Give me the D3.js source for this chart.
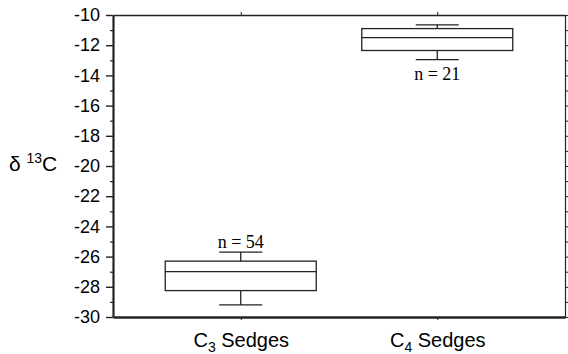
<!DOCTYPE html>
<html>
<head>
<meta charset="utf-8">
<script src="https://cdn.jsdelivr.net/npm/d3@7"></script>
<style>
  body { margin: 0; background: #fff; }
  svg { display: block; }
</style>
</head>
<body>
<div id="chart"></div>
<script>
// box summary per group
const groups = ['C3', 'C4'];
const groupSub = ['3', '4'];
const whiskerLow = [-29.2, -12.95];
const q1 = [-28.25, -12.35];
const median = [-27.0, -11.5];
const q3 = [-26.3, -10.9];
const whiskerHigh = [-25.7, -10.65];
const nCounts = [54, 21];
const nAbove = [true, false];
const yTicks = [-30, -28, -26, -24, -22, -20, -18, -16, -14, -12, -10];

const width = 568, height = 354;
const margin = {top: 15, right: 3, bottom: 37, left: 113};
const ink = '#222';

const svg = d3.select('#chart').append('svg')
    .attr('width', width).attr('height', height);

const y = d3.scaleLinear().domain([-30, -10]).range([height - margin.bottom, margin.top]);
const x = d3.scalePoint().domain(groups)
    .range([margin.left, width - margin.right]).padding(0.65);

const boxW = 151, capW = 43;

// minor ticks on the left, every odd value
const minorTicks = d3.range(-29, -10, 2);
svg.append('g')
    .attr('transform', `translate(${margin.left},0)`)
    .call(d3.axisLeft(y).tickValues(minorTicks).tickSize(3).tickFormat(''))
    .call(g => g.select('.domain').remove())
    .selectAll('line').attr('stroke', ink).attr('stroke-width', 1.2);

// right axis, small ticks every unit
svg.append('g')
    .attr('transform', `translate(${width - margin.right},0)`)
    .call(d3.axisRight(y).tickValues(d3.range(-30, -9, 1)).tickSize(3).tickFormat(''))
    .call(g => g.select('.domain').attr('stroke', ink).attr('stroke-width', 1.2))
    .selectAll('line').attr('stroke', ink);

// top axis
svg.append('g')
    .attr('transform', `translate(0,${margin.top})`)
    .call(d3.axisTop(x).tickSize(3).tickFormat('').tickSizeOuter(0))
    .call(g => g.select('.domain').attr('stroke', ink).attr('stroke-width', 1.5))
    .selectAll('line').attr('stroke', ink);

// left axis with labels
svg.append('g')
    .attr('transform', `translate(${margin.left},0)`)
    .call(d3.axisLeft(y).tickValues(yTicks).tickSize(7).tickPadding(6).tickSizeOuter(0)
      .tickFormat(d => d3.format('d')(d).replace('−', '-')))
    .call(g => g.select('.domain').attr('stroke', ink).attr('stroke-width', 2.2))
    .call(g => g.selectAll('line').attr('stroke', ink).attr('stroke-width', 1.4))
    .selectAll('text')
      .attr('fill', '#000')
      .style('font-family', 'Liberation Sans, Arial, sans-serif')
      .style('font-size', '18px');

// bottom axis
const bottom = svg.append('g')
    .attr('transform', `translate(0,${height - margin.bottom})`)
    .call(d3.axisBottom(x).tickSize(3).tickSizeOuter(0).tickPadding(14).tickFormat(''));
bottom.select('.domain').attr('stroke', ink).attr('stroke-width', 2.4);
bottom.selectAll('line').attr('stroke', ink);
bottom.selectAll('.tick').each(function(d, i) {
  const t = d3.select(this).append('text')
      .attr('y', 30)
      .attr('text-anchor', 'middle')
      .attr('fill', '#000')
      .style('font-family', 'Liberation Sans, Arial, sans-serif')
      .style('font-size', '20px');
  t.append('tspan').text('C');
  t.append('tspan').attr('dy', 5).style('font-size', '14px').text(groupSub[i]);
  t.append('tspan').attr('dy', -5).text(' Sedges');
});

// boxes
const boxes = svg.append('g').selectAll('g')
    .data(groups)
    .join('g')
    .attr('transform', d => `translate(${x(d)},0)`);

boxes.append('line')
    .attr('y1', (d, i) => y(whiskerLow[i])).attr('y2', (d, i) => y(q1[i]))
    .attr('stroke', ink).attr('stroke-width', 1.3);
boxes.append('line')
    .attr('y1', (d, i) => y(q3[i])).attr('y2', (d, i) => y(whiskerHigh[i]))
    .attr('stroke', ink).attr('stroke-width', 1.3);
boxes.append('line')
    .attr('x1', -capW / 2).attr('x2', capW / 2)
    .attr('y1', (d, i) => y(whiskerLow[i])).attr('y2', (d, i) => y(whiskerLow[i]))
    .attr('stroke', ink).attr('stroke-width', 1.3);
boxes.append('line')
    .attr('x1', -capW / 2).attr('x2', capW / 2)
    .attr('y1', (d, i) => y(whiskerHigh[i])).attr('y2', (d, i) => y(whiskerHigh[i]))
    .attr('stroke', ink).attr('stroke-width', 1.3);
boxes.append('rect')
    .attr('x', -boxW / 2).attr('width', boxW)
    .attr('y', (d, i) => y(q3[i]))
    .attr('height', (d, i) => y(q1[i]) - y(q3[i]))
    .attr('fill', 'none').attr('stroke', ink).attr('stroke-width', 1.3);
boxes.append('line')
    .attr('x1', -boxW / 2).attr('x2', boxW / 2)
    .attr('y1', (d, i) => y(median[i])).attr('y2', (d, i) => y(median[i]))
    .attr('stroke', ink).attr('stroke-width', 1.3);

boxes.append('text')
    .attr('text-anchor', 'middle')
    .attr('y', (d, i) => nAbove[i] ? y(whiskerHigh[i]) - 4 : y(whiskerLow[i]) + 20)
    .attr('fill', '#000')
    .style('font-family', 'Liberation Serif, Times New Roman, serif')
    .style('font-size', '18px')
    .text((d, i) => `n = ${nCounts[i]}`);

// y label
const yl = svg.append('text')
    .attr('x', 9).attr('y', y(-20) + 5)
    .attr('fill', '#000')
    .style('font-family', 'Liberation Sans, Arial, sans-serif')
    .style('font-size', '21px');
yl.append('tspan').text('δ ');
yl.append('tspan').attr('dy', -8).style('font-size', '14px').text('13');
yl.append('tspan').attr('dy', 8).text('C');
</script>
</body>
</html>
